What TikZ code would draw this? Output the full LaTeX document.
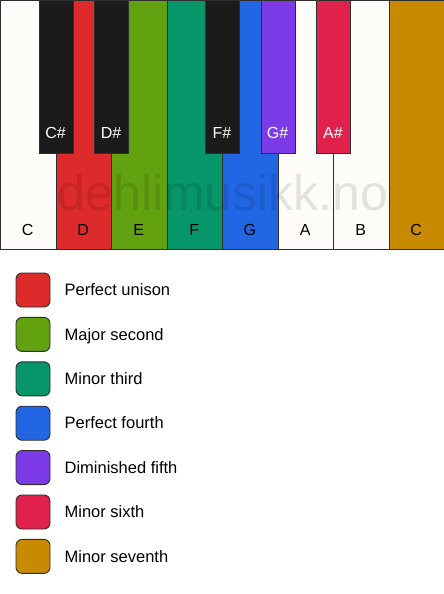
\documentclass[tikz,border=0pt]{standalone}
\usepackage{fontspec}
\setmainfont{Liberation Sans}
\usetikzlibrary{positioning}

\definecolor{keywhite}{HTML}{FEFCF9}
\definecolor{keyblack}{HTML}{1B1B1B}
\definecolor{keyedge}{HTML}{2E2E2E}
\definecolor{unisonred}{HTML}{DD2A2A}
\definecolor{secondgreen}{HTML}{62A10F}
\definecolor{thirdteal}{HTML}{07956A}
\definecolor{fourthblue}{HTML}{2266E4}
\definecolor{fifthpurple}{HTML}{7B3AE6}
\definecolor{sixthcrimson}{HTML}{E0214B}
\definecolor{seventhgold}{HTML}{C98A03}

\tikzset{
  whitekey/.style={draw=keyedge,line width=0.9pt,fill=keywhite,anchor=north west,
    minimum width=55.5pt,minimum height=249pt,inner sep=0pt},
  blackkey/.style={draw=keyedge,line width=0.9pt,fill=keyblack,anchor=north west,
    minimum width=34pt,minimum height=153pt,inner sep=0pt},
  whitename/.style={font=\fontsize{16}{18}\selectfont,text=black},
  blackname/.style={font=\fontsize{16}{18}\selectfont,text=white},
  swatch/.style={draw=keyedge,line width=0.9pt,rounded corners=6pt,minimum size=34pt,inner sep=0pt},
  intervalname/.style={font=\fontsize{16.5}{19}\selectfont,anchor=west,inner sep=0pt,
    text height=13pt,text depth=1.5pt}
}

\begin{document}
\begin{tikzpicture}[x=1pt,y=-1pt]
   \useasboundingbox (0,0) rectangle (444,594);
   \fill[white] (0,0) rectangle (444,594);
   \node[whitekey] (keyC) at (0,0) {};
   \node[whitekey,fill=unisonred] (keyD) at (55.5,0) {};
   \node[whitekey,fill=secondgreen] (keyE) at (111,0) {};
   \node[whitekey,fill=thirdteal] (keyF) at (166.5,0) {};
   \node[whitekey,fill=fourthblue] (keyG) at (222,0) {};
   \node[whitekey] (keyA) at (277.5,0) {};
   \node[whitekey] (keyB) at (333,0) {};
   \node[whitekey,fill=seventhgold] (keyCC) at (388.5,0) {};
   \node[font=\fontsize{50}{56}\selectfont,text=black,text opacity=0.1] (mark) at (223,193) {dehlimusikk.no};
   \node[blackkey] (keyCs) at (38.5,0) {};
   \node[blackkey] (keyDs) at (94,0) {};
   \node[blackkey] (keyFs) at (205,0) {};
   \node[blackkey,fill=fifthpurple] (keyGs) at (260.5,0) {};
   \node[blackkey,fill=sixthcrimson] (keyAs) at (316,0) {};
   \node[whitename] (nameC) at (27.75,230) {C};
   \node[whitename] (nameD) at (83.25,230) {D};
   \node[whitename] (nameE) at (138.75,230) {E};
   \node[whitename] (nameF) at (194.25,230) {F};
   \node[whitename] (nameG) at (249.75,230) {G};
   \node[whitename] (nameA) at (305.25,230) {A};
   \node[whitename] (nameB) at (360.75,230) {B};
   \node[whitename] (nameCC) at (416.25,230) {C};
   \node[blackname] (nameCs) at (55.5,133) {C\#};
   \node[blackname] (nameDs) at (111,133) {D\#};
   \node[blackname] (nameFs) at (222,133) {F\#};
   \node[blackname] (nameGs) at (277.5,133) {G\#};
   \node[blackname] (nameAs) at (333,133) {A\#};
   \node[swatch,fill=unisonred] (boxUnison) at (33,290) {};
   \node[swatch,fill=secondgreen] (boxSecond) at (33,334.4) {};
   \node[swatch,fill=thirdteal] (boxThird) at (33,378.8) {};
   \node[swatch,fill=fourthblue] (boxFourth) at (33,423.2) {};
   \node[swatch,fill=fifthpurple] (boxFifth) at (33,467.6) {};
   \node[swatch,fill=sixthcrimson] (boxSixth) at (33,512) {};
   \node[swatch,fill=seventhgold] (boxSeventh) at (33,556.4) {};
   \node[intervalname,right=14pt of boxUnison] (textUnison) {Perfect unison};
   \node[intervalname,right=14pt of boxSecond] (textSecond) {Major second};
   \node[intervalname,right=14pt of boxThird] (textThird) {Minor third};
   \node[intervalname,right=14pt of boxFourth] (textFourth) {Perfect fourth};
   \node[intervalname,right=14pt of boxFifth] (textFifth) {Diminished fifth};
   \node[intervalname,right=14pt of boxSixth] (textSixth) {Minor sixth};
   \node[intervalname,right=14pt of boxSeventh] (textSeventh) {Minor seventh};
  \end{tikzpicture}
\end{document}
